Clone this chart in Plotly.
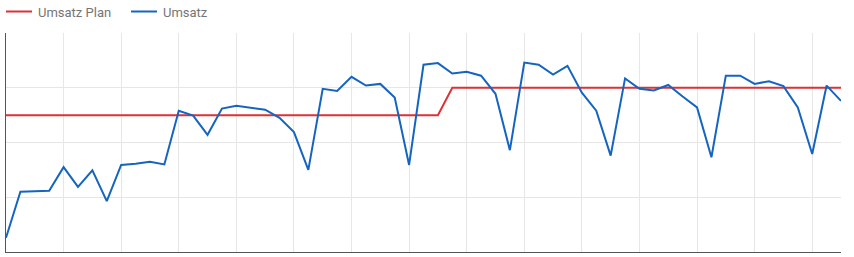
import plotly.graph_objects as go

x_idx = list(range(59))
umsatz = [0.26, 1.10, 1.11, 1.12, 1.55, 1.19, 1.49, 0.93, 1.59, 1.61,
          1.65, 1.60, 2.58, 2.49, 2.14, 2.62, 2.67, 2.64, 2.60, 2.45,
          2.19, 1.50, 2.98, 2.94, 3.20, 3.04, 3.07, 2.82, 1.59, 3.42,
          3.45, 3.26, 3.29, 3.22, 2.89, 1.86, 3.46, 3.42, 3.24, 3.40,
          2.91, 2.58, 1.76, 3.17, 2.98, 2.95, 3.05, 2.84, 2.64, 1.73,
          3.22, 3.22, 3.07, 3.12, 3.03, 2.64, 1.79, 3.04, 2.76]
umsatz_plan = [2.5] * 31 + [3.0] * 28
series_names = ["Umsatz Plan", "Umsatz"]
series_colors = ["#db3236", "#1565c0"]

W, H = 854, 257
ML, MR, MT, MB = 6, 13, 33, 5
PW, PH = W - ML - MR, H - MT - MB

def px_x(px):
    return (px - ML) / PW

def px_y(py):
    return (H - MB - py) / PH

fig = go.Figure()
fig.add_trace(go.Scatter(x=x_idx, y=umsatz_plan, mode="lines", name=series_names[0],
                         line=dict(color=series_colors[0], width=2), showlegend=False))
fig.add_trace(go.Scatter(x=x_idx, y=umsatz, mode="lines", name=series_names[1],
                         line=dict(color=series_colors[1], width=2), showlegend=False))

# legend drawn at the top-left, like the reference
legend_starts = [6, 131]
shapes = []
annotations = []
for name, color, start in zip(series_names, series_colors, legend_starts):
    shapes.append(dict(type="line", xref="paper", yref="paper",
                       x0=px_x(start), x1=px_x(start + 26), y0=px_y(11.5), y1=px_y(11.5),
                       line=dict(color=color, width=2)))
    annotations.append(dict(xref="paper", yref="paper", x=px_x(start + 30), y=px_y(12),
                            xanchor="left", yanchor="middle", text=name, showarrow=False,
                            font=dict(family="Roboto", size=13, color="#757575")))

fig.update_layout(
    width=W, height=H,
    margin=dict(l=ML, r=MR, t=MT, b=MB),
    paper_bgcolor="white", plot_bgcolor="white",
    font=dict(family="Roboto", size=13, color="#757575"),
    showlegend=False,
    shapes=shapes,
    annotations=annotations,
    xaxis=dict(range=[0, 58], showticklabels=False, ticks="", tick0=0, dtick=4,
               showgrid=True, gridcolor="#e6e6e6", gridwidth=1, zeroline=False,
               showline=True, linecolor="#555555", linewidth=1, fixedrange=True),
    yaxis=dict(range=[0, 4], showticklabels=False, ticks="", tick0=0, dtick=1,
               showgrid=True, gridcolor="#e6e6e6", gridwidth=1, zeroline=False,
               showline=True, linecolor="#555555", linewidth=1, fixedrange=True),
)

fig.write_html("out.html", config={"displayModeBar": False})
